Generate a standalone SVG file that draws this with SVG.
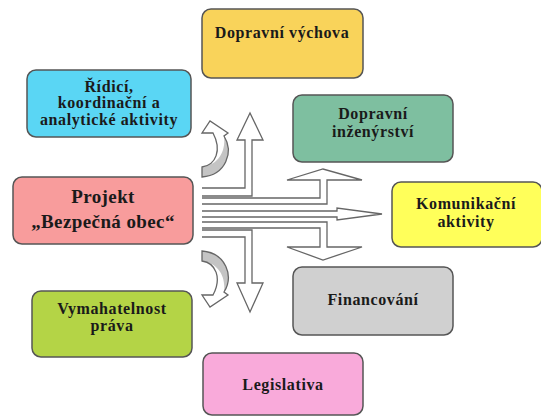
<svg xmlns="http://www.w3.org/2000/svg" width="541" height="417" viewBox="0 0 541 417">
<style>
.box{stroke:#555;stroke-width:1.5}
.t{font-family:"Liberation Serif","Times New Roman",serif;font-weight:bold;font-size:16px;letter-spacing:0.6px;fill:#1a1a1a;text-anchor:middle}
.big{font-size:19px;letter-spacing:0.4px}
.arr{fill:#fff;stroke:#666;stroke-width:1.3;stroke-linejoin:miter}
.sh{fill:#c4c4c4;stroke:none}
</style>
<rect width="541" height="417" fill="#fff"/>
<g id="dopravni-vychova"><rect class="box" x="202" y="9" width="161" height="69" rx="9" fill="#F9D35A"/><text class="t" x="282" y="38">Dopravní výchova</text></g>
<g id="ridici"><rect class="box" x="27" y="70" width="164" height="67" rx="9" fill="#5AD6F4"/><text class="t" x="109" y="92">Řídicí,</text><text class="t" x="109" y="108">koordinační a</text><text class="t" x="109" y="125">analytické aktivity</text></g>
<g id="projekt"><rect class="box" x="13" y="177" width="180" height="67" rx="9" fill="#F89C9C"/><text class="t big" x="103" y="203">Projekt</text><text class="t big" x="103" y="228">„Bezpečná obec“</text></g>
<g id="vymahatelnost"><rect class="box" x="32" y="291" width="160" height="66" rx="9" fill="#B4D446"/><text class="t" x="112" y="314">Vymahatelnost</text><text class="t" x="112" y="331">práva</text></g>
<g id="dopravni-inzenyrstvi"><rect class="box" x="293" y="95" width="160" height="67" rx="9" fill="#7EBFA0"/><text class="t" x="373" y="119">Dopravní</text><text class="t" x="373" y="137">inženýrství</text></g>
<g id="komunikacni"><rect class="box" x="392" y="182" width="150" height="65" rx="9" fill="#FFFF5A"/><text class="t" x="466" y="209">Komunikační</text><text class="t" x="466" y="227">aktivity</text></g>
<g id="financovani"><rect class="box" x="293" y="267" width="160" height="68" rx="9" fill="#D0D0D0"/><text class="t" x="373" y="305">Financování</text></g>
<g id="legislativa"><rect class="box" x="203" y="353" width="160" height="62" rx="9" fill="#F9AADA"/><text class="t" x="283" y="390">Legislativa</text></g>
<g id="connectors">
<path class="arr" d="M202,188 L245,188 L245,140 L237,140 L250,113 L263,140 L252,140 L252,196 L202,196"/>
<path class="arr" d="M202,198 L320,198 L320,180 L287,180 L323,169 L362,180 L327,180 L327,204 L202,204"/>
<path class="arr" d="M202,211 L337,211 L337,208 L382,214 L337,220 L337,217 L202,217"/>
<path class="arr" d="M202,222 L327,222 L327,247 L362,247 L323,260 L287,247 L320,247 L320,228 L202,228"/>
<path class="arr" d="M202,237 L245,237 L245,283 L237,283 L250,312 L263,283 L252,283 L252,230 L202,230"/>
<g id="curve-up">
<path class="sh" d="M202,177 C226,175 234,152 224,136 C226,152 218,165 202,167 Z"/>
<path class="arr" style="fill:none" d="M202,177 C226,175 234,152 224,136 L228,133 L210,121 L202,133 L207,133 L213,133 C222,150 216,165 202,167 Z"/>
</g>
<g id="curve-down" transform="matrix(1,0,0,-1,0,428)">
<path class="sh" d="M202,177 C226,175 234,152 224,136 C226,152 218,165 202,167 Z"/>
<path class="arr" style="fill:none" d="M202,177 C226,175 234,152 224,136 L228,133 L210,121 L202,133 L207,133 L213,133 C222,150 216,165 202,167 Z"/>
</g>
</g>
</svg>
